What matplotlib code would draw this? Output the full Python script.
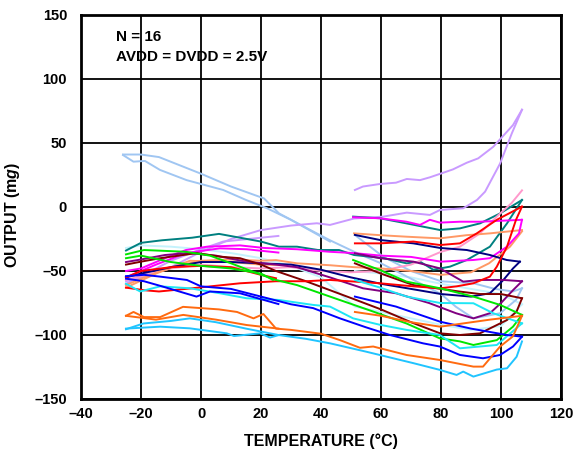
import matplotlib
matplotlib.use("Agg")
import matplotlib.pyplot as plt
from matplotlib.ticker import FuncFormatter

plt.rcParams["font.family"] = ["Liberation Sans", "DejaVu Sans"]
plt.rcParams["font.weight"] = "bold"
plt.rcParams["mathtext.fontset"] = "custom"
plt.rcParams["mathtext.rm"] = "Liberation Sans:bold"
plt.rcParams["mathtext.it"] = "Liberation Sans:bold:italic"

# (temperature °C, output mg), one list per trace
teal_heat = [(-25, -34), (-20, -28), (-13, -26), (-3, -24), (6, -21), (13, -24), (20, -27),
             (26, -31), (32, -31), (39, -33.6), (46, -33.6), (51, -37.5), (61, -40), (68.5, -44),
             (73, -42.7), (77.4, -49), (83, -46.6), (88.6, -41.4), (96.3, -31), (102, -12.8), (107, 5.5)]
teal_cool = [(107, 5.5), (99.7, -5), (93, -12.8), (86.3, -16.7), (79.7, -18), (68.5, -12.8),
             (59.6, -8.8), (50.7, -7.5)]

lightblue_heat = [(-26, 41), (-20, 41), (-14, 39), (0, 26), (10, 16), (21, 6.7), (26, -5), (34, -15),
                  (43, -26), (52, -36), (60, -44), (70, -56), (80, -68), (85, -78), (90.8, -87),
                  (99.7, -83), (105, -72.6), (107, -63.5)]
lightblue_back = [(-26, 40.6), (-22.5, 35.4), (-18.7, 36), (-13.7, 29), (-4.8, 21), (7.4, 13.3),
                  (15, 5.5), (22, -1), (30, -10), (43, -27)]
lightblue_cool = [(107, -63.5), (104, -66), (98, -64), (90.8, -59.6), (80, -58), (70, -50),
                  (60.7, -38.8), (51.3, -21.9)]

lavender_heat = [(-25, -58), (-20, -55), (-10, -47), (0, -35), (10, -25), (20, -18), (30, -14.5),
                 (38.6, -12.7), (43, -14), (51, -9), (60.8, -7.5), (68.6, -4.4), (76.3, -6.2),
                 (79.7, -2.3), (87.4, -1), (92, 5.5), (94.7, 12), (99.7, 34), (103.6, 57.5), (107, 76)]
lavender_cool = [(107, 76), (104, 64), (97.4, 47), (92.4, 38), (88.6, 34.6), (84, 29.4), (80.8, 26.8),
                 (76.3, 23.2), (73, 21), (68.6, 21.9), (65, 19), (59.7, 18), (54, 16), (51.3, 13.3)]
lavender_low = [(-25, -60), (-10, -42), (0, -33), (7.4, -27), (20, -24), (25.8, -22.6)]

magenta_heat = [(-25, -50), (-20, -48), (-10, -38), (-5, -33.6), (2, -31), (13, -30), (21, -32),
                (32, -33), (43, -35), (51, -36), (60, -38), (70, -39), (80, -42.7), (90.8, -41.4),
                (96.3, -40), (102, -31), (106, -20.6), (107, -10)]
magenta_cool = [(107, -10), (93, -11.5), (86.3, -11.5), (79.6, -12.2), (76.3, -10), (73, -14),
                (68.5, -11.5), (59.6, -8.8), (50.7, -8)]
magenta_low = [(-25, -55), (-15, -45), (-5, -36), (6.3, -32.3), (15.2, -33), (25.8, -35.6)]

salmon_heat = [(-25, -61), (-20, -56), (-10, -47), (0, -42), (10, -41), (20, -42), (25, -41.5),
               (32, -44), (43, -45.5), (51, -47), (60, -48), (70, -50), (80, -53), (90, -51),
               (96, -44), (103, -31), (107, -19)]
salmon_cool = [(107, -18), (96.3, -20.6), (88.6, -22), (79.6, -24.5), (68.5, -23.2), (59.6, -22),
               (51, -20.6)]
salmon_low = [(-25, -63), (-15, -52), (-3.7, -42), (10, -43), (20, -45), (25.8, -45.3)]

pink_heat = [(-25, -57), (-10, -48), (0, -45), (10, -47), (20, -48), (30, -47), (40, -50), (50, -51),
             (60, -50), (70, -45), (80, -35), (86.3, -31), (93, -20.6), (98.6, -7.5), (103.5, 3),
             (107, 13)]

navy_heat = [(-25, -55), (-20, -52), (-10, -47), (0, -43), (10, -43), (20, -44), (30, -45), (40, -49),
             (50, -55), (60, -60), (70, -64), (80, -68), (90, -70), (96.3, -67.4), (100.8, -57),
             (104, -48), (106.3, -42.7)]
navy_cool = [(106.3, -42.7), (101.9, -41.4), (96.3, -37.5), (88.6, -33.6), (79.7, -32), (70.8, -28.4),
             (59.7, -25.8), (51.3, -21.8)]

red_heat = [(-25, -63), (-19, -65), (-14, -66), (-3, -63.5), (13, -59.6), (25, -58), (35, -58),
            (43, -57), (59.7, -59.6), (70.8, -62), (79.7, -63.5), (85.2, -62), (90.8, -59.6),
            (96.3, -54.4), (98.6, -46.6), (102, -31), (105, -10), (107, 0.3)]
red_cool = [(107, 0.3), (98.6, -10), (92, -20.5), (86.3, -28.4), (79.7, -29.7), (70.8, -27),
            (59.7, -28.4), (51.3, -28.4)]
red_low = [(-25, -55), (-20, -50), (-10, -47), (0, -46), (10, -47), (20, -53), (25, -55.7)]

purple_heat = [(-25, -43), (-20, -41), (-12, -37.5), (-4, -36), (5, -38), (15, -42.7), (25, -45),
               (32, -47), (43, -55), (54, -63.5), (65, -67.4), (76, -75), (85, -83), (90.8, -87),
               (96.3, -83), (100, -75), (104, -65), (107, -58)]
purple_cool = [(107, -58), (100.8, -57), (93, -57), (87.4, -58.3), (79.7, -48), (70.8, -42.7),
               (59.7, -40), (51.3, -36.2)]

green_heat = [(-25, -37), (-19, -33.6), (-5, -35), (3, -38), (10, -44), (19, -52), (25, -57),
              (32, -61), (43, -70), (57.4, -81.7), (68.5, -91), (79.6, -102.6), (86.3, -105),
              (90.8, -107.8), (98.6, -104), (104, -93.5), (107, -84.3)]
green_cool = [(107, -84.3), (99.7, -76.5), (90.8, -70), (79.7, -63.5), (68.5, -58.3), (59.6, -49.2),
              (50.7, -41.4)]
green_low = [(-25, -40), (-20, -38), (-10, -43), (0, -46), (10, -48), (20, -52), (24, -57)]

darkred_heat = [(-25, -45), (-20, -42.7), (-13.6, -40), (-1.4, -36), (6.4, -38.8), (13, -40),
                (20, -45), (25, -50), (35, -58), (43, -65), (51, -72), (60, -80), (70, -90),
                (79.7, -98.7), (86.3, -100), (93, -98.7), (102, -88.3), (105.2, -81.7), (107, -71.3)]
darkred_cool = [(107, -71.3), (100, -68), (93, -68), (86, -66), (80, -64), (70.8, -61), (59.7, -51.8),
                (51.3, -44)]

cyan_heat = [(-25, -60), (-20.3, -66), (-13.6, -62), (-3.7, -63.5), (6.3, -67.4), (15.2, -71.3),
             (25.8, -72.6), (37.4, -76.5), (43, -77.8), (50.7, -87), (59.6, -92), (68.5, -96),
             (79.6, -100), (86.3, -110.4), (98.6, -107.8), (107, -90.9)]
cyan_cool = [(107, -90.9), (97.4, -83), (90.8, -75.2), (79.7, -75), (68.6, -70), (59.7, -63),
             (51.3, -57)]

blue_heat = [(-25, -54), (-19, -53), (-13.6, -54.4), (-4.7, -57), (0, -62), (10, -64), (20, -70),
             (30, -76), (37.4, -79), (46.3, -87), (55, -94), (63, -100), (74, -106.5), (79.6, -109),
             (86.3, -115.6), (94, -118.2), (99.7, -115.6), (104, -109), (107, -101.3)]
blue_cool = [(107, -101.3), (102, -100), (90, -95), (79.7, -89.6), (65, -77.8), (51.3, -70)]
blue_low = [(-25, -56), (-19, -58), (-13, -62), (-1.5, -70), (3, -66), (13, -67.4), (25.8, -75.8)]

lightcyan_heat = [(-25, -32), (-20, -30), (-10, -31), (0, -33), (10, -36), (20, -40), (30, -46),
                  (40, -55), (51.3, -77.8), (60, -82), (70, -87), (80, -92), (90, -96), (100, -93),
                  (107, -76)]
lightcyan_cool = [(107, -76), (100, -68), (90, -64), (80, -60), (70, -55), (60, -52), (51.3, -50)]

orange_heat = [(-25, -85), (-22.5, -82), (-19, -86), (-13.6, -86), (-6, -78), (0, -79), (6, -80),
               (12, -82), (17.5, -87), (20.8, -83.6), (25, -95), (30, -96), (40, -99), (46.3, -104),
               (53, -110), (57.4, -109), (68.5, -115.6), (79.6, -119.5), (90.8, -124.7), (94, -124.7),
               (99.7, -109), (104, -101), (107, -85)]
orange_cool = [(107, -85), (96.3, -88), (79.7, -93.5), (70, -90), (60, -85), (51.3, -82)]
orange_low = [(-25, -85), (-15, -88), (-5.9, -84.3), (5, -88), (15.2, -92.2), (25.8, -95)]

deepsky_heat = [(-25, -95.5), (-19.2, -91), (-10, -89), (-3.7, -87), (5, -90), (15, -95), (25.8, -100),
                (35, -103), (43, -106.5), (55, -113), (70.8, -122), (79.7, -127.3), (85.2, -131.2),
                (87.4, -128.6), (90.8, -132.5), (98.6, -127), (102, -126), (105.2, -117), (107, -105)]
deepsky_low = [(-25, -95), (-13.6, -93.5), (-3.7, -94.8), (8.6, -98.7), (11, -100.8), (19.7, -98.7),
               (23, -102), (26, -100)]

traces = [
    (lightcyan_heat, "#c4f2fc"), (lightcyan_cool, "#c4f2fc"),
    (lightblue_heat, "#a0c6f2"), (lightblue_back, "#a0c6f2"), (lightblue_cool, "#a0c6f2"),
    (lavender_heat, "#c99aff"), (lavender_cool, "#c99aff"), (lavender_low, "#c99aff"),
    (teal_heat, "#008080"), (teal_cool, "#008080"),
    (pink_heat, "#ff99cc"),
    (salmon_heat, "#ff9966"), (salmon_cool, "#ff9966"), (salmon_low, "#ff9966"),
    (magenta_heat, "#ff00ff"), (magenta_cool, "#ff00ff"), (magenta_low, "#ff00ff"),
    (navy_heat, "#000080"), (navy_cool, "#000080"),
    (purple_heat, "#800080"), (purple_cool, "#800080"),
    (darkred_heat, "#800000"), (darkred_cool, "#800000"),
    (red_heat, "#ff0000"), (red_cool, "#ff0000"), (red_low, "#ff0000"),
    (green_heat, "#00e600"), (green_cool, "#00e600"), (green_low, "#00e600"),
    (cyan_heat, "#1ee6f5"), (cyan_cool, "#1ee6f5"),
    (blue_heat, "#0000ff"), (blue_cool, "#0000ff"), (blue_low, "#0000ff"),
    (orange_heat, "#ff6a10"), (orange_cool, "#ff6a10"), (orange_low, "#ff6a10"),
    (deepsky_heat, "#20c4ff"), (deepsky_low, "#20c4ff"),
]

fig = plt.figure(figsize=(5.77, 4.51), dpi=100)
ax = fig.add_axes([81 / 577, 52 / 451, 480 / 577, 384 / 451])

for pts, col in traces:
    ax.plot([p[0] for p in pts], [p[1] for p in pts], color=col, lw=1.4, solid_joinstyle="round")

ax.set_xlim(-40, 120)
ax.set_ylim(-150, 150)
ax.set_xticks(range(-40, 121, 20))
ax.set_yticks(range(-150, 151, 50))
dash = FuncFormatter(lambda v, p: ("\u2013%d" % -v) if v < 0 else "%d" % v)
ax.xaxis.set_major_formatter(dash)
ax.yaxis.set_major_formatter(dash)
ax.grid(True, color="black", lw=1.3)
ax.set_axisbelow(True)
ax.tick_params(length=0, labelsize=10.5, pad=6)
ax.tick_params(axis="y", pad=10)
for s in ax.spines.values():
    s.set_linewidth(2)

ax.set_xlabel("TEMPERATURE (°C)", fontsize=11.5, fontweight="bold", labelpad=9)
ax.set_ylabel("OUTPUT (m$\\mathit{g}$)", fontsize=11.5, fontweight="bold")
ax.yaxis.set_label_coords(-0.123, 0.48)

ax.text(-28.5, 132.5, "N = 16", fontsize=11, fontweight="bold", va="center")
ax.text(-28.5, 117.5, "AVDD = DVDD = 2.5V", fontsize=11, fontweight="bold", va="center")

fig.savefig("out.png", dpi=100)
